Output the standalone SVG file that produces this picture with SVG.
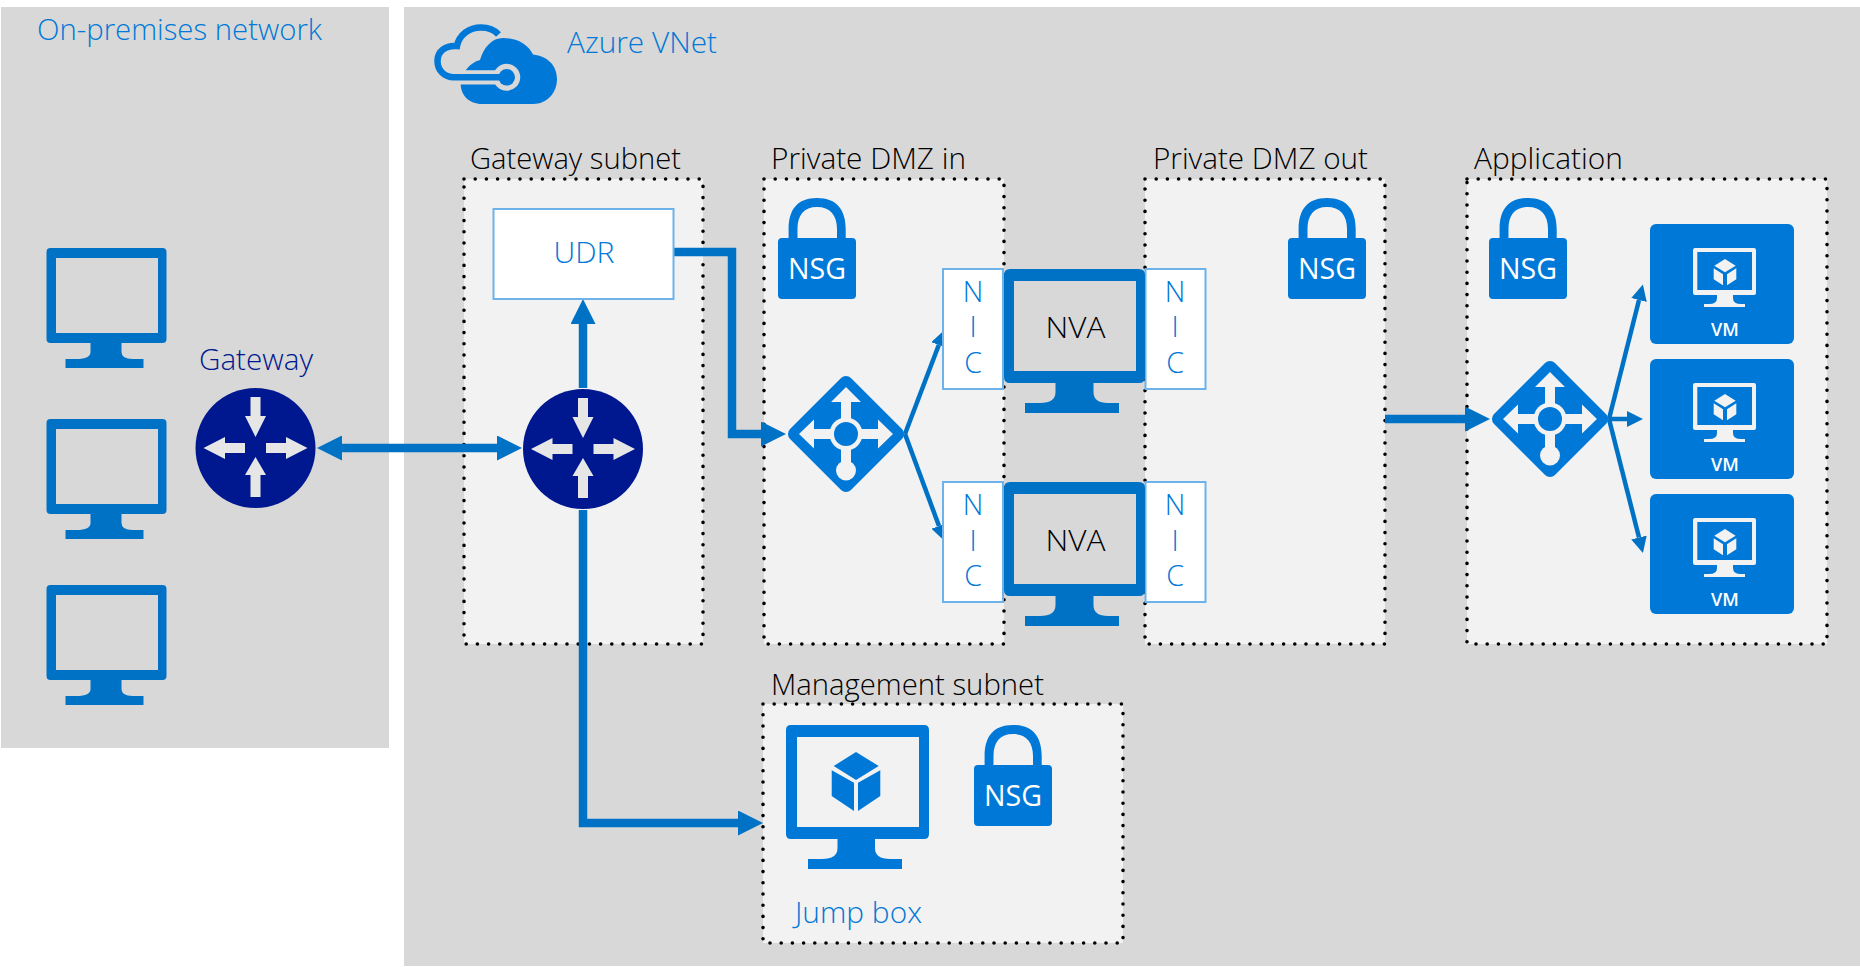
<svg xmlns="http://www.w3.org/2000/svg" xmlns:xlink="http://www.w3.org/1999/xlink" width="1860" height="967" viewBox="0 0 1860 967">
<style>
text{font-family:"Open Sans","Noto Sans","Liberation Sans",sans-serif;font-size:28.5px;font-weight:350}
.blue{fill:#0078d7}.navy{fill:#00188f}.blk{fill:#000}.wht{fill:#fff;font-weight:400}
.mid{text-anchor:middle}
.panel{fill:#d8d8d8}
.subnet{fill:#f2f2f2;stroke:#000;stroke-width:3.6;stroke-linecap:round;stroke-dasharray:0 11.2}
.card{fill:#fff;stroke:#6db2ea;stroke-width:2}
.thick{fill:none;stroke:#0072c6;stroke-width:8.5}
.thin{fill:none;stroke:#0072c6;stroke-width:4.5}
.vmt{font-size:18px;font-weight:600}
</style>
<defs>
<marker id="big" markerUnits="userSpaceOnUse" markerWidth="25" markerHeight="25" refX="0" refY="12.5" orient="auto-start-reverse"><path d="M0 0L25 12.5L0 25Z" fill="#0072c6"/></marker>
<marker id="small" markerUnits="userSpaceOnUse" markerWidth="16" markerHeight="16" refX="0" refY="8" orient="auto-start-reverse"><path d="M0 0L16 8L0 16Z" fill="#0072c6"/></marker>
<path id="mon" fill-rule="evenodd" d="M4 0H116Q120 0 120 4V91Q120 95 116 95H75V104Q75 111 86 111H97V120H19V111H30Q44 111 44 104V95H4Q0 95 0 91V4Q0 0 4 0ZM9.500 10V85H111.500V10Z"/>
<g id="router">
<circle r="60" fill="#00188f"/>
<path fill="#e6e6e6" d="M-5 -51H5V-32H10.500L0 -11L-10.500 -32H-5ZM-5 49H5V27H10.500L0 9L-10.500 27H-5ZM-10.500 -5V5H-30.500V11L-52 0L-30.500 -11V-5ZM10.500 -5V5H30.500V11L52 0L30.500 -11V-5Z"/>
</g>
<g id="lb">
<path d="M0 -51L51 0L0 51L-51 0Z" fill="#0078d7" stroke="#0078d7" stroke-width="14" stroke-linejoin="round"/>
<path fill="#f2f2f2" d="M-5 36V-32H-15L0 -47L15 -32H5V-5H32V-14.500L47 0L32 14.500V5H5V36ZM-5 5H-32V14.500L-47 0L-32 -14.500V-5H-5Z"/>
<circle r="16.500" fill="#f2f2f2"/><circle r="12" fill="#0078d7"/>
<circle cy="36.500" r="10" fill="#f2f2f2"/>
</g>
<g id="cube"><path d="M0 0L10.700 6.700L0 13.300L-10.700 6.700ZM-11.300 9.300L-2 15.300V26.300L-11.300 20.300ZM11.300 9.300L2 15.300V26.300L11.300 20.300Z"/></g>
<path id="lockshape" fill="#0078d7" fill-rule="evenodd" d="M4 40H10.600V31C10.600 12 19 0 39 0S67.700 12 67.700 31V40H74Q78 40 78 44V97Q78 101 74 101H4Q0 101 0 97V44Q0 40 4 40ZM19.500 40H59V31C59 17 52 9 39 9S19.500 17 19.500 31Z"/>
</defs>

<g id="panels">
<rect id="on-premises" class="panel" x="1" y="7" width="388" height="741"/>
<rect id="azure-vnet" class="panel" x="404" y="7" width="1456" height="959"/>
</g>
<g id="subnets">
<rect id="gateway-subnet" class="subnet" x="464" y="179" width="239" height="465"/>
<rect id="dmz-in" class="subnet" x="764" y="179" width="240" height="465"/>
<rect id="dmz-out" class="subnet" x="1145" y="179" width="240" height="465"/>
<rect id="application" class="subnet" x="1467" y="179" width="360" height="465"/>
<rect id="management" class="subnet" x="763" y="704" width="360" height="239"/>
</g>
<g id="labels">
<text class="blue" x="37" y="40" textLength="285" lengthAdjust="spacingAndGlyphs">On-premises network</text>
<text class="blue" x="567" y="53" textLength="150" lengthAdjust="spacingAndGlyphs">Azure VNet</text>
<text class="blk" x="470" y="169" textLength="211" lengthAdjust="spacingAndGlyphs">Gateway subnet</text>
<text class="blk" x="771" y="169" textLength="195" lengthAdjust="spacingAndGlyphs">Private DMZ in</text>
<text class="blk" x="1153" y="169" textLength="215" lengthAdjust="spacingAndGlyphs">Private DMZ out</text>
<text class="blk" x="1474" y="169" textLength="149" lengthAdjust="spacingAndGlyphs">Application</text>
<text class="blk" x="771" y="695" textLength="273" lengthAdjust="spacingAndGlyphs">Management subnet</text>
<text class="navy" x="199" y="370" textLength="114" lengthAdjust="spacingAndGlyphs">Gateway</text>
</g>
<g id="connectors">
<path class="thick" d="M342 448H497" marker-start="url(#big)" marker-end="url(#big)"/>
<path class="thick" d="M583 388V324" marker-end="url(#big)"/>
<path class="thick" d="M583 510V823H738" marker-end="url(#big)"/>
<path class="thick" d="M673 252H732V434H761" marker-end="url(#big)"/>
<path class="thin" d="M905 434L938.800 345" marker-end="url(#small)"/>
<path class="thin" d="M905 434L939 526" marker-end="url(#small)"/>
<path class="thick" d="M1385 419H1465" marker-end="url(#big)"/>
<path class="thin" d="M1609 419L1639 300" marker-end="url(#small)"/>
<path class="thin" d="M1609 419H1627" marker-end="url(#small)"/>
<path class="thin" d="M1609 419L1639 537.500" marker-end="url(#small)"/>
</g>
<g id="azure-cloud">
<path fill="#0078d7" d="M503 38C517 38 528 44 533 54.500C548 56 557 66 557 79C557 93 547 104 533 104H482C469 104 460.700 95 460.700 84C460.700 76 468 63 480 60C484 47 492 38 503 38Z"/>
<path fill="none" stroke="#d8d8d8" stroke-width="14.300" d="M455 77.300H507"/>
<circle cx="506.700" cy="77.300" r="13.500" fill="#d8d8d8"/>
<path fill="none" stroke="#0078d7" stroke-width="6.500" d="M498.500 34.500C494 29.500 488 27.500 481 27.500C469 27.500 459 35 457 46C446 45 437.500 51 437.500 61C437.500 70 444 77.300 454 77.300H503"/>
<circle cx="506.700" cy="77.300" r="8.300" fill="#0078d7"/>
</g>
<g id="udr"><rect class="card" x="493.500" y="209" width="180" height="90"/><text class="blue mid" x="584" y="263" textLength="61" lengthAdjust="spacingAndGlyphs">UDR</text></g>
<g id="computer-1"><use href="#mon" x="46.500" y="248" fill="#0072c6"/></g>
<g id="computer-2"><use href="#mon" x="46.500" y="419" fill="#0072c6"/></g>
<g id="computer-3"><use href="#mon" x="46.500" y="585" fill="#0072c6"/></g>
<g id="gateway-onprem"><use href="#router" x="255.500" y="448"/></g>
<g id="gateway-azure"><use href="#router" x="583" y="449"/></g>
<g id="lb-dmz"><use href="#lb" x="846" y="434"/></g>
<g id="lb-app"><use href="#lb" x="1550" y="419"/></g>
<g id="nsg-dmz-in"><use href="#lockshape" x="778" y="198"/><text class="wht mid" x="817" y="279" textLength="58" lengthAdjust="spacingAndGlyphs">NSG</text></g>
<g id="nsg-dmz-out"><use href="#lockshape" x="1288" y="198"/><text class="wht mid" x="1327" y="279" textLength="58" lengthAdjust="spacingAndGlyphs">NSG</text></g>
<g id="nsg-app"><use href="#lockshape" x="1489" y="198"/><text class="wht mid" x="1528" y="279" textLength="58" lengthAdjust="spacingAndGlyphs">NSG</text></g>
<g id="nsg-mgmt"><use href="#lockshape" x="974" y="725"/><text class="wht mid" x="1013" y="806" textLength="58" lengthAdjust="spacingAndGlyphs">NSG</text></g>
<g id="nic-1"><rect class="card" x="943" y="269" width="60" height="120"/><text class="blue mid" x="973" y="302">N</text><text class="blue mid" x="973" y="337">I</text><text class="blue mid" x="973" y="373">C</text></g>
<g id="nic-2"><rect class="card" x="943" y="482" width="60" height="120"/><text class="blue mid" x="973" y="515">N</text><text class="blue mid" x="973" y="551">I</text><text class="blue mid" x="973" y="586">C</text></g>
<g id="nic-3"><rect class="card" x="1145.500" y="269" width="60" height="120"/><text class="blue mid" x="1175" y="302">N</text><text class="blue mid" x="1175" y="337">I</text><text class="blue mid" x="1175" y="373">C</text></g>
<g id="nic-4"><rect class="card" x="1145.500" y="482" width="60" height="120"/><text class="blue mid" x="1175" y="515">N</text><text class="blue mid" x="1175" y="551">I</text><text class="blue mid" x="1175" y="586">C</text></g>
<g id="nva-1"><path fill="#0072c6" fill-rule="evenodd" d="M1010 269H1139Q1145 269 1145 275V377Q1145 383 1139 383H1093.500V392Q1093.500 403 1108 403H1119V413H1025V403H1040Q1055.500 403 1055.500 392V383H1010Q1004 383 1004 377V275Q1004 269 1010 269Z"/><rect x="1014" y="281" width="122" height="90" fill="#d8d8d8"/><text class="blk mid" x="1075.500" y="338" textLength="60" lengthAdjust="spacingAndGlyphs">NVA</text></g>
<g id="nva-2"><path fill="#0072c6" fill-rule="evenodd" d="M1010 482H1139Q1145 482 1145 488V590Q1145 596 1139 596H1093.500V605Q1093.500 616 1108 616H1119V626H1025V616H1040Q1055.500 616 1055.500 605V596H1010Q1004 596 1004 590V488Q1004 482 1010 482Z"/><rect x="1014" y="494" width="122" height="90" fill="#d8d8d8"/><text class="blk mid" x="1075.500" y="551" textLength="60" lengthAdjust="spacingAndGlyphs">NVA</text></g>
<g id="vm-1" transform="translate(1650 224)"><rect width="144" height="120" rx="6" fill="#0078d7"/><path fill="#f2f2f2" fill-rule="evenodd" d="M45 24H104Q106 24 106 26V69Q106 71 104 71H83V74Q83 80 91 80H95V83H54V80H59Q67 80 67 74V71H45Q43 71 43 69V26Q43 24 45 24ZM47.300 28V66H102V28Z"/><use href="#cube" x="75" y="35" fill="#f2f2f2"/><text class="wht mid vmt" x="75" y="112">VM</text></g>
<g id="vm-2" transform="translate(1650 359)"><rect width="144" height="120" rx="6" fill="#0078d7"/><path fill="#f2f2f2" fill-rule="evenodd" d="M45 24H104Q106 24 106 26V69Q106 71 104 71H83V74Q83 80 91 80H95V83H54V80H59Q67 80 67 74V71H45Q43 71 43 69V26Q43 24 45 24ZM47.300 28V66H102V28Z"/><use href="#cube" x="75" y="35" fill="#f2f2f2"/><text class="wht mid vmt" x="75" y="112">VM</text></g>
<g id="vm-3" transform="translate(1650 494)"><rect width="144" height="120" rx="6" fill="#0078d7"/><path fill="#f2f2f2" fill-rule="evenodd" d="M45 24H104Q106 24 106 26V69Q106 71 104 71H83V74Q83 80 91 80H95V83H54V80H59Q67 80 67 74V71H45Q43 71 43 69V26Q43 24 45 24ZM47.300 28V66H102V28Z"/><use href="#cube" x="75" y="35" fill="#f2f2f2"/><text class="wht mid vmt" x="75" y="112">VM</text></g>
<g id="jump-box"><path fill="#0078d7" fill-rule="evenodd" d="M791 725H924Q929 725 929 730V834Q929 839 924 839H875V848Q875 859 890 859H902V869H808V859H822Q837.500 859 837.500 848V839H791Q786 839 786 834V730Q786 725 791 725ZM797 737V827H919V737Z"/><path fill="#0078d7" d="M856 752L878.700 766L856 780L833.700 766ZM831.700 770.300L854 782.700V811L831.700 796ZM880.300 770.300L858 782.700V811L880.300 796Z"/><text class="blue" x="795" y="923" textLength="127" lengthAdjust="spacingAndGlyphs">Jump box</text></g>
</svg>
